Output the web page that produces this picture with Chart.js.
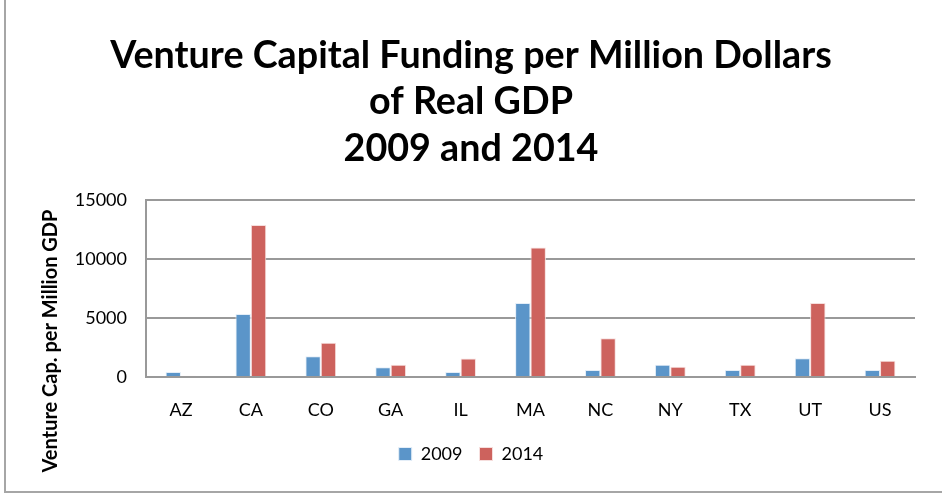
<!DOCTYPE html>
<html>
<head>
<meta charset="utf-8">
<script src="https://cdn.jsdelivr.net/npm/chart.js@4"></script>
<style>
  html, body { margin: 0; padding: 0; background: #fff; }
  #wrap { position: relative; width: 942px; height: 493px; overflow: hidden; }
  #frame { position: absolute; left: 4px; top: -4px; width: 946px; height: 497px;
           border: 2px solid #a6a6a6; box-sizing: border-box; }
  canvas { position: absolute; left: 0; top: 0; }
</style>
</head>
<body>
<div id="wrap">
  <div id="frame"></div>
  <canvas id="vcChart" width="942" height="493"></canvas>
</div>
<script>
// Valores
const states = ['AZ', 'CA', 'CO', 'GA', 'IL', 'MA', 'NC', 'NY', 'TX', 'UT', 'US'];
const funding2009 = [430, 5340, 1770, 830, 430, 6280, 600, 1030, 600, 1600, 600];
const funding2014 = [100, 12900, 2910, 1030, 1570, 11000, 3290, 860, 1030, 6280, 1370];
const yTicks = [0, 5000, 10000, 15000];

const baseFont = "Lato, 'Open Sans', sans-serif";

// Título do eixo Y desenhado à parte: no original ele não fica centrado no eixo
const yAxisTitle = {
    id: 'yAxisTitle',
    afterDraw(chart, args, opts) {
        const c = chart.ctx;
        c.save();
        c.translate(opts.x, opts.y);
        c.rotate(-Math.PI / 2);
        c.font = 'bold 20px ' + baseFont;
        c.fillStyle = '#000';
        c.textAlign = 'center';
        c.textBaseline = 'middle';
        c.fillText(opts.text, 0, 0);
        c.restore();
    }
};

new Chart(document.getElementById('vcChart').getContext('2d'), {
    type: 'bar',
    data: {
        labels: states,
        datasets: [
            {
                label: '2009',
                data: funding2009,
                backgroundColor: '#5b95c9',
                borderColor: '#e4eef8',
                borderWidth: 1,
                barPercentage: 1,
                categoryPercentage: 0.44
            },
            {
                label: '2014',
                data: funding2014,
                backgroundColor: '#cd625d',
                borderColor: '#f6dedd',
                borderWidth: 1,
                barPercentage: 1,
                categoryPercentage: 0.44
            }
        ]
    },
    options: {
        responsive: false,
        animation: false,
        layout: { padding: { left: 27, right: 27, top: 0, bottom: 20 } },
        plugins: {
            title: {
                display: true,
                text: ['Venture Capital Funding per Million Dollars', 'of Real GDP', '2009 and 2014'],
                color: '#000',
                font: { family: baseFont, size: 37.7, weight: 'bold', lineHeight: 1.24 },
                padding: { top: 32, bottom: 28 }
            },
            legend: {
                position: 'bottom',
                labels: {
                    color: '#000',
                    boxWidth: 13,
                    boxHeight: 13,
                    padding: 17,
                    font: { family: baseFont, size: 18 }
                }
            },
            yAxisTitle: { text: 'Venture Cap. per Million GDP', x: 51, y: 341 },
            tooltip: { enabled: false }
        },
        scales: {
            x: {
                afterFit: (axis) => { axis.height = 51; },
                grid: { display: false, drawTicks: false },
                border: { color: '#999', width: 2 },
                ticks: { color: '#000', padding: 22, font: { family: baseFont, size: 18 } }
            },
            y: {
                min: 0,
                max: 15000,
                afterFit: (axis) => { axis.width = 119; },
                afterBuildTicks: (axis) => { axis.ticks = yTicks.map(v => ({ value: v })); },
                grid: { color: '#999', lineWidth: 2, drawTicks: false },
                border: { color: '#999', width: 2 },
                ticks: {
                    color: '#000',
                    padding: 19,
                    font: { family: baseFont, size: 18 },
                    callback: (v) => String(v)
                }
            }
        }
    },
    plugins: [yAxisTitle]
});
</script>
</body>
</html>
